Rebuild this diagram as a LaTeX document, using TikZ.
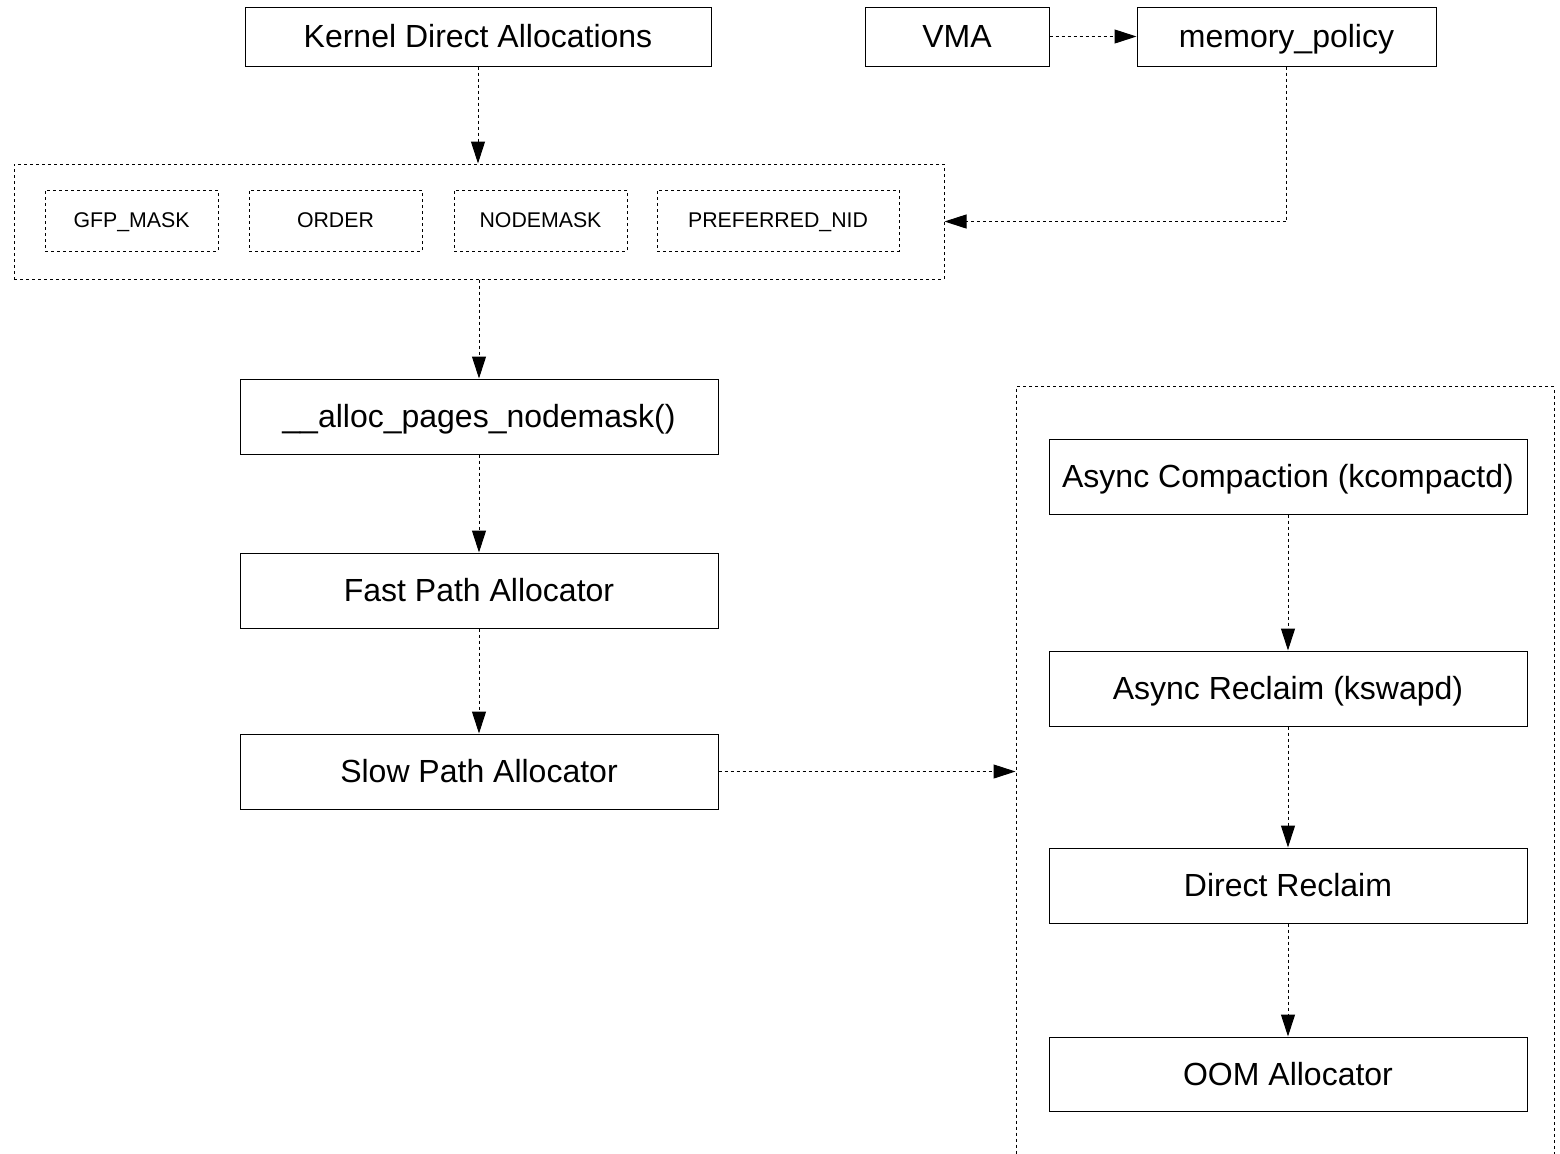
\documentclass[tikz,border=0pt]{standalone}
\usepackage{fontspec}
\setmainfont{Liberation Sans}
\usetikzlibrary{arrows.meta}
\tikzset{
  blk/.style={draw=black, line width=0.5pt, inner sep=0pt, text height=11.3pt, text depth=0pt, font=\fontsize{16}{19}\selectfont},
  sblk/.style={draw=black, line width=0.5pt, inner sep=0pt, dash pattern=on 1.5pt off 1.5pt, minimum width=86.5pt, minimum height=30.5pt, text height=7.2pt, text depth=0pt, font=\fontsize{10.65}{13}\selectfont},
  grpbox/.style={draw=black, line width=0.5pt, inner sep=0pt, dash pattern=on 1.5pt off 1.5pt},
  flow/.style={draw=black, line width=0.5pt, dash pattern=on 1.5pt off 1.5pt, -{Triangle[length=11pt,width=7pt]}}
}
\begin{document}
\begin{tikzpicture}[x=0.5pt,y=-0.5pt]
\useasboundingbox (0,0) rectangle (1560,1153);
\clip (0,0) rectangle (1560,1153);
\node [blk, minimum width=233pt, minimum height=29.5pt] (kda) at (478,36.5) {Kernel Direct Allocations};
\node [blk, minimum width=92pt, minimum height=29.5pt] (vma) at (957,36.5) {VMA};
\node [blk, minimum width=149.5pt, minimum height=29.5pt] (mpol) at (1286.5,36.5) {memory\_policy};
\node [grpbox, minimum width=465pt, minimum height=57.5pt] (args) at (479,221.5) {};
\node [sblk] (gfp) at (131.5,220.5) {GFP\_MASK};
\node [sblk] (order) at (335.5,220.5) {ORDER};
\node [sblk] (nmask) at (540.5,220.5) {NODEMASK};
\node [sblk, minimum width=121pt] (pnid) at (778,220.5) {PREFERRED\_NID};
\node [blk, minimum width=239pt, minimum height=37.5pt] (alloc) at (479,416.5) {\_\_alloc\_pages\_nodemask()};
\node [blk, minimum width=239pt, minimum height=37.5pt] (fast) at (479,590.5) {Fast Path Allocator};
\node [blk, minimum width=239pt, minimum height=37.5pt] (slow) at (479,771.5) {Slow Path Allocator};
\node [grpbox, anchor=north, minimum width=269pt, minimum height=400pt] (slowgrp) at (1285,386) {};
\node [blk, minimum width=239pt, minimum height=37.5pt] (kcomp) at (1288,476.5) {Async Compaction (kcompactd)};
\node [blk, minimum width=239pt, minimum height=37.5pt] (kswap) at (1288,688.5) {Async Reclaim (kswapd)};
\node [blk, minimum width=239pt, minimum height=37.5pt] (drecl) at (1288,885.5) {Direct Reclaim};
\node [blk, minimum width=239pt, minimum height=37pt] (oom) at (1288,1074) {OOM Allocator};
\draw [flow] (vma) -- (mpol);
\draw [flow] (kda.south) -- (kda.south |- args.north);
\draw [flow] (mpol.south) |- (args.east);
\draw [flow] (args.south) -- (alloc.north);
\draw [flow] (alloc) -- (fast);
\draw [flow] (fast) -- (slow);
\draw [flow] (slow.east) -- (slow.east -| slowgrp.west);
\draw [flow] (kcomp) -- (kswap);
\draw [flow] (kswap) -- (drecl);
\draw [flow] (drecl) -- (oom);
\end{tikzpicture}
\end{document}
